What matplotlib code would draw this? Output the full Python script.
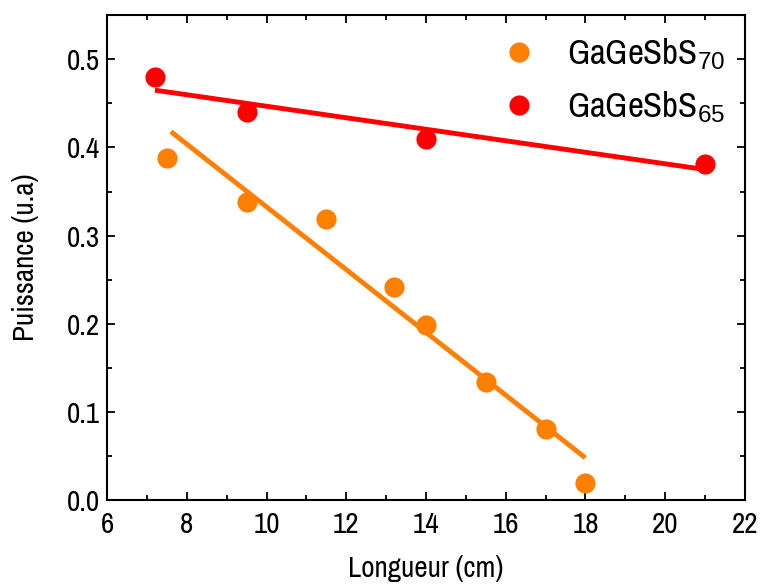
import matplotlib
matplotlib.use("Agg")
import matplotlib.pyplot as plt
from matplotlib.ticker import MultipleLocator, FormatStrFormatter

plt.rcParams['font.family'] = ['Archivo Narrow', 'Liberation Sans', 'DejaVu Sans']
plt.rcParams['mathtext.fontset'] = 'custom'
plt.rcParams['mathtext.rm'] = 'Liberation Sans'
plt.rcParams['mathtext.it'] = 'Liberation Sans'

# Data
x70 = [7.5, 9.5, 11.5, 13.2, 14.0, 15.5, 17.0, 18.0]
y70 = [0.388, 0.338, 0.319, 0.242, 0.199, 0.134, 0.081, 0.019]
x65 = [7.2, 9.5, 14.0, 21.0]
y65 = [0.480, 0.440, 0.410, 0.381]

# Linear fit lines (endpoints)
fit70_x = [7.6, 18.0]
fit70_y = [0.418, 0.048]
fit65_x = [7.2, 21.0]
fit65_y = [0.465, 0.375]

labels = ['GaGeSbS$_{70}$', 'GaGeSbS$_{65}$']
c70 = '#FF8000'
c65 = '#FF0000'

fig = plt.figure(figsize=(7.6, 5.85), dpi=100)
ax = fig.add_axes([0.141, 0.145, 0.839, 0.829])

ax.plot(fit70_x, fit70_y, color=c70, lw=3.5, solid_capstyle='butt')
ax.plot(fit65_x, fit65_y, color=c65, lw=3.5, solid_capstyle='butt')
ax.plot(x70, y70, 'o', color=c70, ms=14.5, mec='none', label=labels[0])
ax.plot(x65, y65, 'o', color=c65, ms=14.5, mec='none', label=labels[1])

ax.set_xlim(6, 22)
ax.set_ylim(0, 0.55)
ax.xaxis.set_major_locator(MultipleLocator(2))
ax.xaxis.set_minor_locator(MultipleLocator(1))
ax.yaxis.set_major_locator(MultipleLocator(0.1))
ax.yaxis.set_minor_locator(MultipleLocator(0.05))
ax.yaxis.set_major_formatter(FormatStrFormatter('%.1f'))

ax.tick_params(which='both', direction='in', top=True, right=True, width=1.3)
ax.tick_params(which='major', length=6, labelsize=21)
ax.tick_params(axis='x', which='major', pad=8)
ax.tick_params(axis='y', which='major', pad=5)
ax.tick_params(which='minor', length=3.5)
for s in ax.spines.values():
    s.set_linewidth(1.5)

ax.set_xlabel('Longueur (cm)', fontsize=21, labelpad=12)
ax.set_ylabel('Puissance (u.a)', fontsize=21, labelpad=20)

ax.legend(loc='upper left', bbox_to_anchor=(0.58, 1.0), frameon=False,
          fontsize=25, handletextpad=0.8, labelspacing=0.5, handlelength=1.2,
          borderaxespad=0.2)

fig.savefig('out.png', dpi=100)
